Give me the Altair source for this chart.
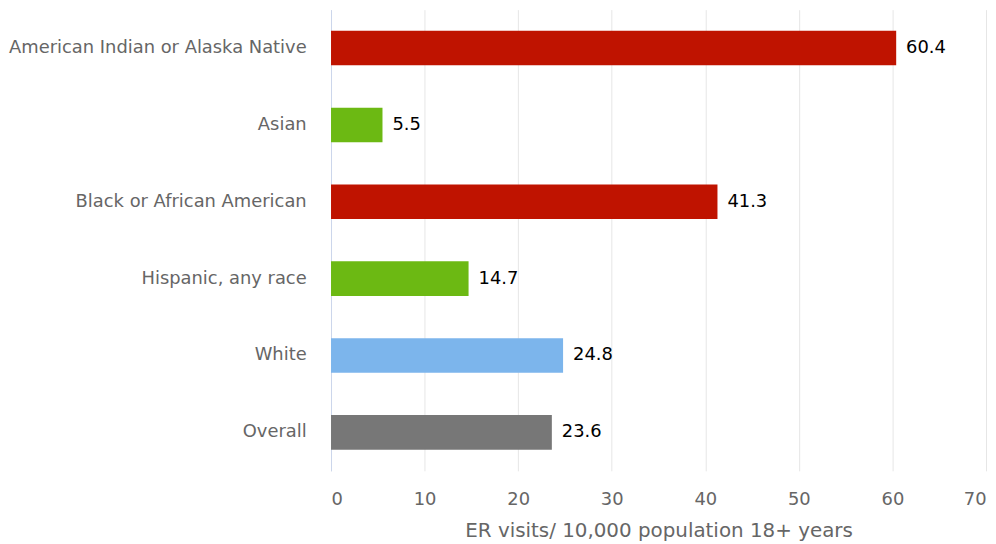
import altair as alt
import pandas as pd

categories = ["American Indian or Alaska Native", "Asian", "Black or African American",
              "Hispanic, any race", "White", "Overall"]
values = [60.4, 5.5, 41.3, 14.7, 24.8, 23.6]
bar_colors = ["#BF1300", "#6CB913", "#BF1300", "#6CB913", "#7CB5EC", "#777777"]
x_ticks = [0, 10, 20, 30, 40, 50, 60, 70]

df = pd.DataFrame({"cat": categories, "val": values, "color": bar_colors,
                   "label": [f"{v:.1f}" for v in values]})

font = "DejaVu Sans"

base = alt.Chart(df).encode(
    y=alt.Y("cat:N", sort=categories, title=None,
            scale=alt.Scale(paddingInner=0.55, paddingOuter=0.275),
            axis=alt.Axis(labelFont=font, labelFontSize=18, labelColor="#666666",
                          labelPadding=25, ticks=False, domainColor="#CCD6EB",
                          domainWidth=1, labelLimit=400, grid=False)),
)

bars = base.mark_bar().encode(
    x=alt.X("val:Q", title="ER visits/ 10,000 population 18+ years",
            scale=alt.Scale(domain=[0, 70], nice=False),
            axis=alt.Axis(values=x_ticks, labelFont=font, labelFontSize=18,
                          labelColor="#666666", labelPadding=20, ticks=False,
                          domain=False, gridColor="#E6E6E6", titleFont=font,
                          titleFontSize=20, titleFontWeight="normal",
                          titleColor="#666666", titlePadding=12)),
    color=alt.Color("color:N", scale=None),
)

texts = base.mark_text(align="left", dx=10, font=font, fontSize=18,
                       color="#000000", baseline="middle").encode(
    x="val:Q", text="label:N")

chart = (bars + texts).properties(
    width=659, height=464,
    background="white",
    autosize=alt.AutoSizeParams(type="none"),
    padding={"left": 325, "top": 0, "right": 2, "bottom": 72},
).configure_view(stroke=None)

chart.save("out.html", embed_options={"renderer": "svg", "actions": False})
